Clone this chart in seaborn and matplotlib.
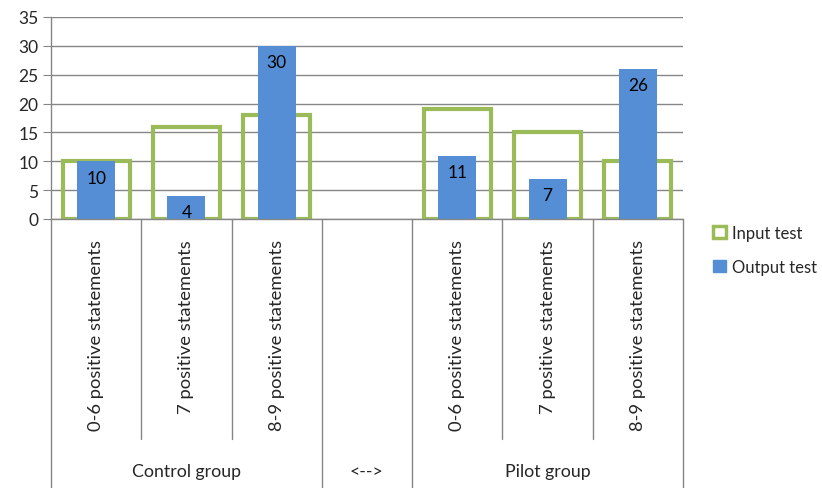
import pandas as pd
import numpy as np
import seaborn as sb
import matplotlib.pyplot as plt
from matplotlib.patches import Patch

# data
slots = ['c1', 'c2', 'c3', 'gap', 'p1', 'p2', 'p3']
tick_labels = ['0-6 positive statements', '7 positive statements', '8-9 positive statements', '',
               '0-6 positive statements', '7 positive statements', '8-9 positive statements']
groups = ['Control group', '<-->', 'Pilot group']
group_spans = [(0, 2), (3, 3), (4, 6)]
input_test = [10, 16, 18, np.nan, 19, 15, 10]
output_test = [10, 4, 30, np.nan, 11, 7, 26]

green = '#9BBB59'
blue = '#558ED5'
grid_col = '#868686'

df = pd.DataFrame({'slot': slots, 'Input test': input_test, 'Output test': output_test})
df = df.dropna()

sb.set_style('white')
plt.rcParams['font.family'] = ['Lato', 'DejaVu Sans']

fig = plt.figure(figsize=(8.22, 4.89), dpi=100)
ax = fig.add_axes([51 / 822, 1 - 220 / 489, (683 - 51) / 822, 202 / 489])

sb.barplot(data=df, x='slot', y='Input test', order=slots, color=green, fill=False,
           width=0.74, linewidth=3, ax=ax)
sb.barplot(data=df, x='slot', y='Output test', order=slots, color=blue, saturation=1,
           width=0.42, linewidth=0, ax=ax)

# value labels on the output bars
ax.bar_label(ax.containers[-1], fmt='%g', padding=-17.5, fontsize=12.5, color='black')

ax.set_ylim(0, 35)
ax.set_xlim(-0.5, len(slots) - 0.5)
ax.set_yticks(range(0, 36, 5))
ax.tick_params(axis='y', labelsize=12.5, length=6, color=grid_col, direction='out', left=True, pad=3)
ax.set_xticks([])
ax.set_xlabel('')
ax.set_ylabel('')
ax.set_axisbelow(True)
ax.yaxis.grid(True, color=grid_col, linewidth=1)
for s in ['top', 'right']:
    ax.spines[s].set_visible(False)
for s in ['left', 'bottom']:
    ax.spines[s].set_color(grid_col)
    ax.spines[s].set_linewidth(1)

# multi-level category axis
trans = ax.get_xaxis_transform()
group_edges = [-0.5, 2.5, 3.5, 6.5]
for b in np.arange(-0.5, len(slots), 1.0):
    bottom = -1.33 if b in group_edges else -1.09
    ax.plot([b, b], [0, bottom], color=grid_col, lw=1, transform=trans, clip_on=False)

for i, lab in enumerate(tick_labels):
    ax.text(i, -0.1, lab, rotation=90, ha='center', va='top', fontsize=13.2, transform=trans)

for g, (a, b) in zip(groups, group_spans):
    ax.text((a + b) / 2, -1.25, g, ha='center', va='center', fontsize=12.8, transform=trans)

handles = [Patch(facecolor='white', edgecolor=green, linewidth=2.5, label='Input test'),
           Patch(facecolor=blue, edgecolor=blue, label='Output test')]
fig.legend(handles=handles, loc='center left', bbox_to_anchor=(0.868, 0.487), frameon=False,
           borderpad=0, borderaxespad=0, fontsize=12, handlelength=0.75, handleheight=0.75,
           handletextpad=0.35, labelspacing=1.1)

fig.savefig('out.png', dpi=100)
